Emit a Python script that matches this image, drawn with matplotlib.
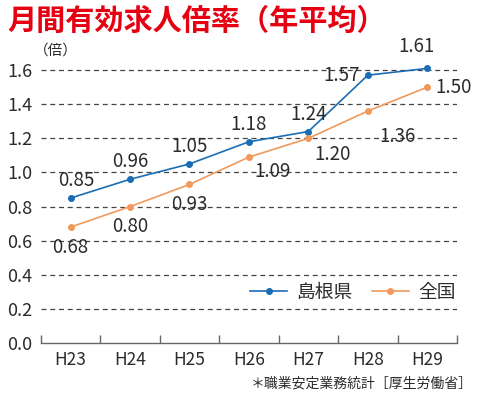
import matplotlib.pyplot as plt

plt.rcParams['font.family'] = ['Noto Sans CJK JP', 'DejaVu Sans']

years = ["H23", "H24", "H25", "H26", "H27", "H28", "H29"]
shimane = [0.85, 0.96, 1.05, 1.18, 1.24, 1.57, 1.61]
national = [0.68, 0.80, 0.93, 1.09, 1.20, 1.36, 1.50]

# label offsets in points (dx, dy, ha, va)
shimane_lbl = [(4, 5, "center", "bottom"), (0, 5, "center", "bottom"), (0, 5, "center", "bottom"),
               (0, 5, "center", "bottom"), (0, 5, "center", "bottom"), (-6, 0, "right", "center"),
               (-8, 8, "center", "bottom")]
national_lbl = [(0, -7, "center", "top"), (0, -7, "center", "top"), (0, -7, "center", "top"),
                (4, -3, "left", "top"), (4, -4, "left", "top"), (8, -11, "left", "top"),
                (6, 0, "left", "center")]

txt = "#2b2b2b"
blue = "#1a6db5"
orange = "#f0995a"

fig = plt.figure(figsize=(4.8, 3.99), dpi=100)
ax = fig.add_axes([0.085, 0.14, 0.867, 0.71])

x = range(len(years))
ax.plot(x, shimane, color=blue, lw=1.2, marker="o", ms=4, label="島根県")
ax.plot(x, national, color=orange, lw=1.2, marker="o", ms=4, label="全国")

for i, v in enumerate(shimane):
    dx, dy, ha, va = shimane_lbl[i]
    ax.annotate(f"{v:.2f}", (i, v), xytext=(dx, dy), textcoords="offset points",
                ha=ha, va=va, fontsize=13.5, color=txt)
for i, v in enumerate(national):
    dx, dy, ha, va = national_lbl[i]
    ax.annotate(f"{v:.2f}", (i, v), xytext=(dx, dy), textcoords="offset points",
                ha=ha, va=va, fontsize=13.5, color=txt)

ax.set_xlim(-0.5, len(years) - 0.5)
ax.set_ylim(0, 1.66)
ax.set_yticks([0, 0.2, 0.4, 0.6, 0.8, 1.0, 1.2, 1.4, 1.6])
ax.set_yticklabels([f"{t:.1f}" for t in ax.get_yticks()], fontsize=13, color=txt)
ax.set_xticks(list(x))
ax.set_xticklabels(years, fontsize=12.5, color=txt)
ax.tick_params(axis="x", length=0, pad=6)
ax.tick_params(axis="y", length=0, pad=6)
ax.set_xticks([i - 0.5 for i in range(len(years) + 1)], minor=True)
ax.tick_params(axis="x", which="minor", direction="in", length=6, color="#666666", width=1)

for t in [0.2, 0.4, 0.6, 0.8, 1.0, 1.2, 1.4, 1.6]:
    ax.axhline(t, color="#444444", lw=0.9, ls=(0, (4, 3)), zorder=0)

for s in ["top", "right", "left"]:
    ax.spines[s].set_visible(False)
ax.spines["bottom"].set_color("#666666")
ax.spines["bottom"].set_linewidth(1)

leg = ax.legend(loc="center", bbox_to_anchor=(0.75, 0.18), ncol=2, frameon=False,
                fontsize=13.5, handlelength=2.0, columnspacing=1.0, handletextpad=0.5)
for t in leg.get_texts():
    t.set_color(txt)

fig.text(0.015, 0.985, "月間有効求人倍率（年平均）", fontsize=21, fontweight="bold",
         color="#e60012", ha="left", va="top")
fig.text(0.07, 0.872, "（倍）", fontsize=10.5, color=txt, ha="left", va="center")
fig.text(0.985, 0.04, "＊職業安定業務統計［厚生労働省］", fontsize=10, color=txt,
         ha="right", va="center")

fig.savefig("out.png", dpi=100)
